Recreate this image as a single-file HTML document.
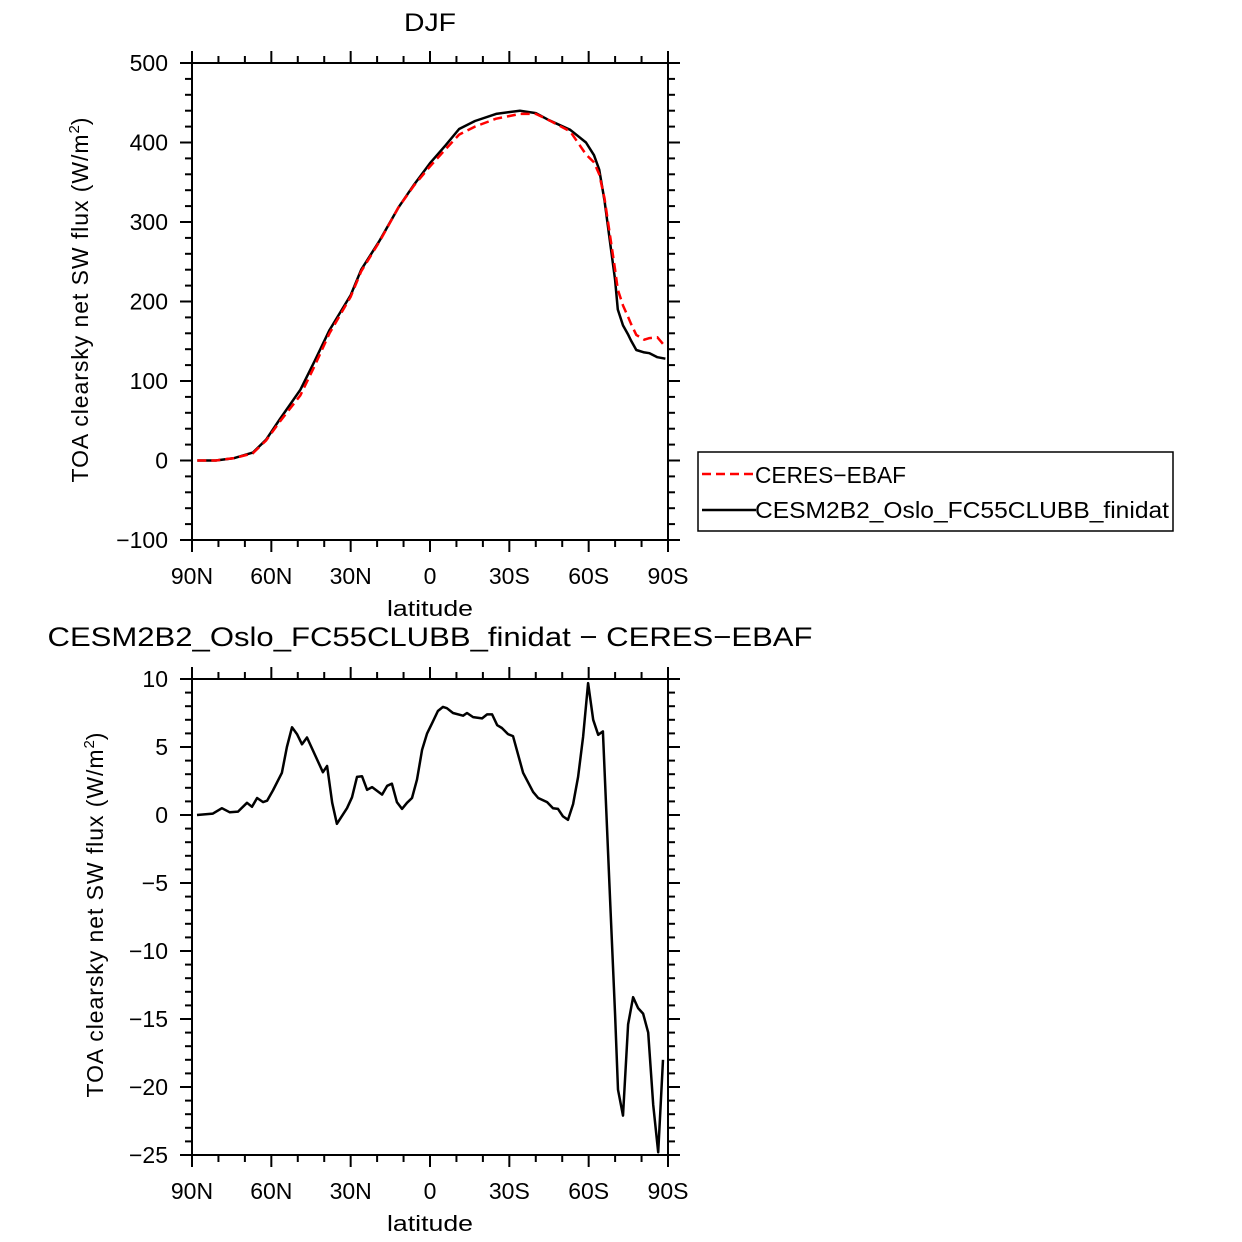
<!DOCTYPE html>
<html><head><meta charset="utf-8"><style>
html,body{margin:0;padding:0;background:#fff;}
svg{display:block;font-family:"Liberation Sans","DejaVu Sans",sans-serif;}
</style></head><body>
<svg id="c" width="1242" height="1242" viewBox="0 0 1242 1242"></svg>
<script>
const latTop=[88,81,74,67,62,57,49,43.5,38,30,26,19,12,6,0,-6,-11,-17,-25,-34,-40,-45,-53,-59,-62,-64,-66,-68,-70,-71,-73,-75,-76,-78,-81,-83,-86,-89];
const modelVals=[0,0,3,10,26,51,89,126,164,208,240,277,318,347,374,397,417,427,436,440,437,428,416,400,384,366,327,277,227,190,170,158,151,139,136,135,130,128];
const ceresVals=[0,0,3,9,25,48,82,120,160,206,238,276,318,346,370,392,410,420,430,436,436,428,414,385,375,360,330,285,240,215,195,180,172,158,152,154,155,143];
const latDiff=[88.1,82.1,78.7,75.7,72.6,69.2,67.3,65.4,63.1,61.6,59.4,56.0,54.1,52.2,50.3,48.4,46.5,40.5,38.9,37.0,35.2,31.4,29.5,27.6,25.7,23.8,21.9,18.1,16.2,14.4,12.5,10.6,8.7,6.8,4.9,3.0,1.1,-0.8,-3.0,-4.9,-6.4,-8.7,-12.5,-14.0,-16.3,-19.7,-21.6,-23.5,-25.4,-27.2,-29.5,-31.4,-35.2,-39.0,-40.9,-44.3,-46.5,-48.4,-50.3,-52.2,-54.1,-56.0,-57.9,-59.8,-61.7,-63.6,-65.4,-68.1,-70.0,-71.1,-73.0,-74.9,-76.8,-78.7,-80.6,-82.5,-84.4,-86.3,-88.1];
const diffVals=[0,0.1,0.5,0.2,0.25,0.9,0.6,1.25,0.95,1.05,1.8,3.1,5.0,6.45,5.95,5.2,5.7,3.15,3.6,0.9,-0.65,0.5,1.3,2.8,2.85,1.85,2.05,1.5,2.15,2.3,0.95,0.45,0.9,1.25,2.6,4.8,6.0,6.75,7.65,7.95,7.85,7.5,7.3,7.5,7.2,7.1,7.4,7.4,6.6,6.4,5.95,5.8,3.1,1.7,1.25,0.95,0.5,0.45,-0.1,-0.35,0.8,2.8,5.75,9.7,7.0,5.9,6.15,-6.25,-14.7,-20.2,-22.1,-15.4,-13.4,-14.2,-14.6,-16,-21.3,-24.8,-18];
const xTickLats=[90,60,30,0,-30,-60,-90];
const xTickLabels=["90N","60N","30N","0","30S","60S","90S"];
const topTicks=[500,400,300,200,100,0,-100];
const botTicks=[10,5,0,-5,-10,-15,-20,-25];

const svg=document.getElementById('c');
const NS='http://www.w3.org/2000/svg';
function mk(tag,attrs,parent){const e=document.createElementNS(NS,tag);for(const k in attrs)e.setAttribute(k,attrs[k]);(parent||svg).appendChild(e);return e;}
const X0=192,X1=668;
const xs=lat=>X0+(90-lat)/180*(X1-X0);

function panel(name,yTop,yBot,vMax,vMin,ticks,minorStep,ytitleX,ytitleY){
  const ys=v=>yTop+(vMax-v)/(vMax-vMin)*(yBot-yTop);
  const g=mk('g',{});
  
  
  const fr=mk('rect',{x:X0,y:yTop,width:X1-X0,height:yBot-yTop,fill:'none',stroke:'#000','stroke-width':2},g);
  
  
  for(let v=vMin;v<=vMax+1e-9;v+=minorStep){
    const major=ticks.some(t=>Math.abs(t-v)<1e-6);const L=major?12:7;const y=ys(v);
    mk('line',{x1:X0-L,x2:X0,y1:y,y2:y,stroke:'#000','stroke-width':2},g);
    mk('line',{x1:X1,x2:X1+L,y1:y,y2:y,stroke:'#000','stroke-width':2},g);
  }
  ticks.forEach(t=>{const tx=mk('text',{x:X0-24,y:ys(t)+8,'text-anchor':'end','font-size':23},g);tx.textContent=String(t).replace('-','\u2212');
    
    });
  for(let lat=90;lat>=-90;lat-=10){
    const major=lat%30===0;const L=major?12:7;const x=xs(lat);
    mk('line',{x1:x,x2:x,y1:yTop-L,y2:yTop,stroke:'#000','stroke-width':2},g);
    mk('line',{x1:x,x2:x,y1:yBot,y2:yBot+L,stroke:'#000','stroke-width':2},g);
  }
  xTickLats.forEach((lat,i)=>{const tx=mk('text',{x:xs(lat),y:yBot+44,'text-anchor':'middle','font-size':23},g);tx.textContent=xTickLabels[i];
    
    });
  const xl=mk('text',{x:430,y:yBot+76,'text-anchor':'middle','font-size':22,textLength:86,lengthAdjust:'spacingAndGlyphs'},g);xl.textContent='latitude';
  
  
  const yt=mk('text',{x:0,y:0,'text-anchor':'middle','font-size':23,transform:`translate(${ytitleX},${ytitleY}) rotate(-90)`},g);
  yt.innerHTML='<tspan textLength="348" lengthAdjust="spacing">TOA clearsky net SW flux (W/m</tspan><tspan dy="-9" font-size="15">2</tspan><tspan dy="9">)</tspan>';
  
  
  return ys;
}
function line(lats,vals,ys,attrs,name){
  const d=lats.map((l,i)=>(i?'L':'M')+xs(l).toFixed(1)+','+ys(vals[i]).toFixed(1)).join('');
  const p=mk('path',Object.assign({d:d,fill:'none','stroke-linejoin':'round'},attrs));
  
  
}
const ysT=panel('top',63,540,500,-100,topTicks,20,88,300);
line(latTop,modelVals,ysT,{stroke:'#000','stroke-width':2.5},'cesm-line');
line(latTop,ceresVals,ysT,{stroke:'#f00','stroke-width':2.5,'stroke-dasharray':'9,5'},'ceres-line');
const ysB=panel('bottom',679,1155,10,-25,botTicks,1,103,915);
line(latDiff,diffVals,ysB,{stroke:'#000','stroke-width':2.5},'difference-line');

const t1=mk('text',{x:430,y:31,'text-anchor':'middle','font-size':25,textLength:52,lengthAdjust:'spacingAndGlyphs'});t1.textContent='DJF';


const t2=mk('text',{x:430,y:646,'text-anchor':'middle','font-size':27,textLength:765,lengthAdjust:'spacingAndGlyphs'});t2.textContent='CESM2B2_Oslo_FC55CLUBB_finidat \u2212 CERES\u2212EBAF';



const lg=mk('g',{});


mk('rect',{x:698,y:452,width:475,height:79,fill:'#fff',stroke:'#000','stroke-width':1.5},lg);
mk('line',{x1:702,x2:756,y1:474,y2:474,stroke:'#f00','stroke-width':2.5,'stroke-dasharray':'9,5'},lg);
mk('line',{x1:702,x2:756,y1:510,y2:510,stroke:'#000','stroke-width':2.5},lg);
const l1=mk('text',{x:755,y:483,'font-size':23,textLength:151,lengthAdjust:'spacingAndGlyphs'},lg);l1.textContent='CERES\u2212EBAF';


const l2=mk('text',{x:755,y:518,'font-size':23,textLength:414,lengthAdjust:'spacingAndGlyphs'},lg);l2.textContent='CESM2B2_Oslo_FC55CLUBB_finidat';


</script>
</body></html>
